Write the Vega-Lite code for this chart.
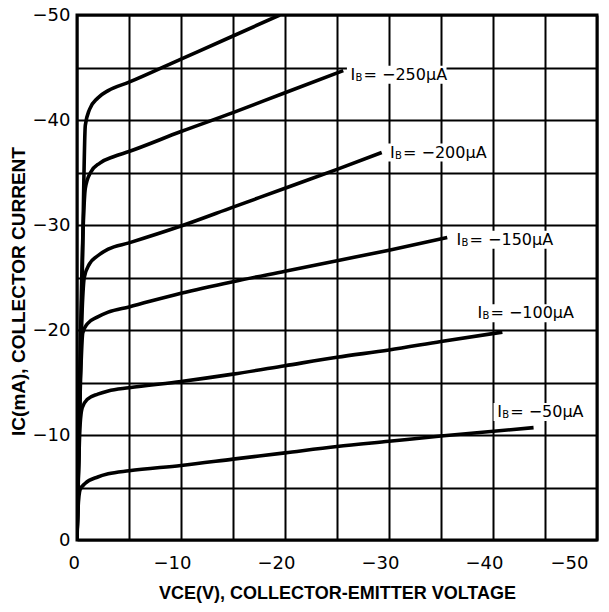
{
  "$schema": "https://vega.github.io/schema/vega-lite/v6.json",
  "width": 520,
  "height": 525,
  "autosize": "none",
  "padding": {"left": 77, "top": 15, "right": 12, "bottom": 72},
  "background": "white",
  "config": {
    "view": {"stroke": "black", "strokeWidth": 3},
    "axis": {
      "grid": true, "gridColor": "black", "gridWidth": 2, "gridOpacity": 1,
      "ticks": false, "domain": false,
      "labelFont": "DejaVu Sans", "labelFontSize": 18, "labelColor": "black",
      "titleFont": "Liberation Sans", "titleFontSize": 18, "titleFontWeight": "bold", "titleColor": "black"
    }
  },
  "datasets": {
    "curves": [
      {"s": "-300", "i": 0, "V": 0, "I": 0},
      {"s": "-300", "i": 1, "V": -0.5, "I": -25},
      {"s": "-300", "i": 2, "V": -0.8, "I": -39.5},
      {"s": "-300", "i": 3, "V": -1.2, "I": -41},
      {"s": "-300", "i": 4, "V": -2, "I": -42.1},
      {"s": "-300", "i": 5, "V": -3, "I": -42.8},
      {"s": "-300", "i": 6, "V": -5, "I": -43.6},
      {"s": "-300", "i": 7, "V": -10, "I": -45.8},
      {"s": "-300", "i": 8, "V": -15, "I": -48},
      {"s": "-300", "i": 9, "V": -19.5, "I": -50},
      {"s": "-250", "i": 0, "V": 0, "I": 0},
      {"s": "-250", "i": 1, "V": -0.6, "I": -30},
      {"s": "-250", "i": 2, "V": -0.8, "I": -33.5},
      {"s": "-250", "i": 3, "V": -1.3, "I": -35},
      {"s": "-250", "i": 4, "V": -2.2, "I": -35.9},
      {"s": "-250", "i": 5, "V": -3.5, "I": -36.5},
      {"s": "-250", "i": 6, "V": -5, "I": -37},
      {"s": "-250", "i": 7, "V": -10, "I": -38.9},
      {"s": "-250", "i": 8, "V": -15, "I": -40.7},
      {"s": "-250", "i": 9, "V": -20, "I": -42.6},
      {"s": "-250", "i": 10, "V": -25.6, "I": -44.7},
      {"s": "-200", "i": 0, "V": 0, "I": 0},
      {"s": "-200", "i": 1, "V": -0.5, "I": -22},
      {"s": "-200", "i": 2, "V": -0.7, "I": -25},
      {"s": "-200", "i": 3, "V": -1.2, "I": -26.3},
      {"s": "-200", "i": 4, "V": -1.9, "I": -27},
      {"s": "-200", "i": 5, "V": -3, "I": -27.7},
      {"s": "-200", "i": 6, "V": -5, "I": -28.3},
      {"s": "-200", "i": 7, "V": -10, "I": -29.9},
      {"s": "-200", "i": 8, "V": -15, "I": -31.7},
      {"s": "-200", "i": 9, "V": -20, "I": -33.5},
      {"s": "-200", "i": 10, "V": -25, "I": -35.3},
      {"s": "-200", "i": 11, "V": -29.3, "I": -36.9},
      {"s": "-150", "i": 0, "V": 0, "I": 0},
      {"s": "-150", "i": 1, "V": -0.4, "I": -17},
      {"s": "-150", "i": 2, "V": -0.55, "I": -19.7},
      {"s": "-150", "i": 3, "V": -1, "I": -20.6},
      {"s": "-150", "i": 4, "V": -1.9, "I": -21.2},
      {"s": "-150", "i": 5, "V": -3, "I": -21.7},
      {"s": "-150", "i": 6, "V": -5, "I": -22.2},
      {"s": "-150", "i": 7, "V": -10, "I": -23.5},
      {"s": "-150", "i": 8, "V": -15, "I": -24.6},
      {"s": "-150", "i": 9, "V": -20, "I": -25.6},
      {"s": "-150", "i": 10, "V": -25, "I": -26.6},
      {"s": "-150", "i": 11, "V": -30, "I": -27.6},
      {"s": "-150", "i": 12, "V": -35.6, "I": -28.8},
      {"s": "-100", "i": 0, "V": 0, "I": 0},
      {"s": "-100", "i": 1, "V": -0.3, "I": -11},
      {"s": "-100", "i": 2, "V": -0.5, "I": -12.6},
      {"s": "-100", "i": 3, "V": -1, "I": -13.4},
      {"s": "-100", "i": 4, "V": -2, "I": -13.9},
      {"s": "-100", "i": 5, "V": -3, "I": -14.2},
      {"s": "-100", "i": 6, "V": -5, "I": -14.5},
      {"s": "-100", "i": 7, "V": -10, "I": -15.1},
      {"s": "-100", "i": 8, "V": -15, "I": -15.8},
      {"s": "-100", "i": 9, "V": -20, "I": -16.6},
      {"s": "-100", "i": 10, "V": -25, "I": -17.4},
      {"s": "-100", "i": 11, "V": -30, "I": -18.1},
      {"s": "-100", "i": 12, "V": -35, "I": -18.9},
      {"s": "-100", "i": 13, "V": -40.9, "I": -19.8},
      {"s": "-50", "i": 0, "V": 0, "I": 0},
      {"s": "-50", "i": 1, "V": -0.1, "I": -3},
      {"s": "-50", "i": 2, "V": -0.3, "I": -4.8},
      {"s": "-50", "i": 3, "V": -0.8, "I": -5.4},
      {"s": "-50", "i": 4, "V": -2, "I": -6},
      {"s": "-50", "i": 5, "V": -3, "I": -6.3},
      {"s": "-50", "i": 6, "V": -5, "I": -6.6},
      {"s": "-50", "i": 7, "V": -10, "I": -7.1},
      {"s": "-50", "i": 8, "V": -15, "I": -7.7},
      {"s": "-50", "i": 9, "V": -20, "I": -8.3},
      {"s": "-50", "i": 10, "V": -25, "I": -8.9},
      {"s": "-50", "i": 11, "V": -30, "I": -9.4},
      {"s": "-50", "i": 12, "V": -35, "I": -9.9},
      {"s": "-50", "i": 13, "V": -43.9, "I": -10.7}
    ],
    "labels": [
      {"V": -26.3, "I": -44.3, "rest": "= −250µA"},
      {"V": -30.1, "I": -36.9, "rest": "= −200µA"},
      {"V": -36.5, "I": -28.6, "rest": "= −150µA"},
      {"V": -38.5, "I": -21.6, "rest": "= −100µA"},
      {"V": -40.4, "I": -12.2, "rest": "= −50µA"}
    ]
  },
  "encoding": {
    "x": {
      "field": "V", "type": "quantitative",
      "scale": {"domain": [0, -50], "nice": false, "zero": false},
      "axis": {
        "values": [0, -5, -10, -15, -20, -25, -30, -35, -40, -45, -50],
        "labelExpr": "datum.value % 10 === 0 ? datum.label : ''",
        "labelPadding": 14, "labelOffset": -9, "titlePadding": 12,
        "title": "VCE(V), COLLECTOR-EMITTER VOLTAGE"
      }
    },
    "y": {
      "field": "I", "type": "quantitative",
      "scale": {"domain": [0, -50], "nice": false, "zero": false},
      "axis": {
        "values": [0, -5, -10, -15, -20, -25, -30, -35, -40, -45, -50],
        "labelExpr": "datum.value % 10 === 0 ? datum.label : ''",
        "labelPadding": 7, "titlePadding": 4, "titleFontSize": 19, "titleY": 276,
        "title": "IC(mA),  COLLECTOR  CURRENT"
      }
    }
  },
  "layer": [
    {
      "data": {"name": "labels"},
      "mark": {"type": "point", "filled": true, "fill": "white", "stroke": null, "opacity": 1, "size": 14400,
               "shape": "M-0.06,-0.15L1.6,-0.15L1.6,0.15L-0.06,0.15Z"},
      "encoding": {}
    },
    {
      "data": {"name": "curves"},
      "mark": {"type": "line", "color": "black", "strokeWidth": 3.6, "interpolate": "monotone", "clip": true},
      "encoding": {
        "detail": {"field": "s"},
        "order": {"field": "i", "type": "quantitative"}
      }
    },
    {
      "data": {"name": "labels"},
      "mark": {"type": "text", "align": "left", "baseline": "middle", "font": "DejaVu Sans", "fontSize": 16, "color": "black", "text": "I"},
      "encoding": {}
    },
    {
      "data": {"name": "labels"},
      "mark": {"type": "text", "align": "left", "baseline": "middle", "font": "DejaVu Sans", "fontSize": 10, "color": "black", "text": "B", "dx": 5, "dy": 3},
      "encoding": {}
    },
    {
      "data": {"name": "labels"},
      "mark": {"type": "text", "align": "left", "baseline": "middle", "font": "DejaVu Sans", "fontSize": 16, "color": "black", "dx": 13},
      "encoding": {"text": {"field": "rest"}}
    }
  ]
}
